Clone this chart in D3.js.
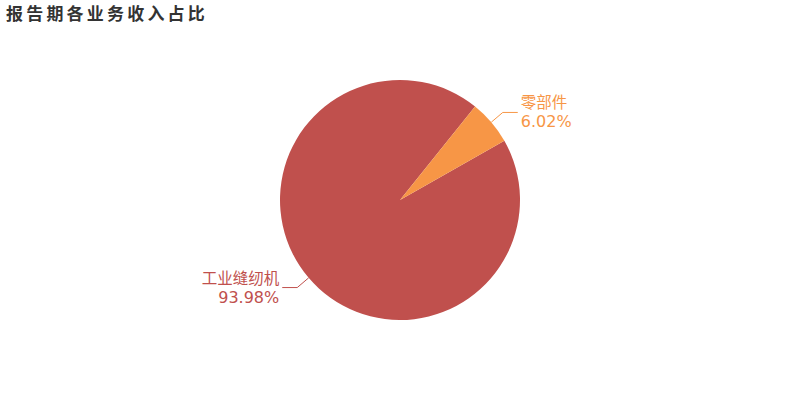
<!DOCTYPE html>
<html><head><meta charset="utf-8">
<script src="https://cdn.jsdelivr.net/npm/d3@7"></script>
<style>body{margin:0;background:#fff}svg{display:block}</style>
</head><body>
<svg id="c" width="800" height="400"></svg>
<script>
const title = "报告期各业务收入占比";
const categories = ["工业缝纫机", "零部件"];
const values = [93.98, 6.02];
const colors = ["#c0504d", "#f79646"];

const svg = d3.select("#c");
const cx = 400, cy = 200, R = 120;
const font = "'DejaVu Sans','Noto Sans CJK SC',sans-serif";

svg.append("text").attr("x", 6).attr("y", 20)
  .attr("font-family", font).attr("font-size", 17).attr("font-weight", "bold")
  .attr("letter-spacing", 3.2).attr("fill", "#333").text(title);

const data = categories.map((c, i) => ({name: c, value: values[i], color: colors[i]}));
const start = 60.4 * Math.PI / 180;
const pie = d3.pie().value(d => d.value).sort(null).startAngle(start).endAngle(start + 2 * Math.PI);
const arcs = pie(data);
const arc = d3.arc().innerRadius(0).outerRadius(R);
const g = svg.append("g").attr("transform", `translate(${cx},${cy})`);
g.selectAll("path").data(arcs).join("path").attr("d", arc).attr("fill", d => d.data.color);

arcs.forEach(a => {
  const m = (a.startAngle + a.endAngle) / 2;
  const sx = Math.sin(m), sy = -Math.cos(m);
  const p1 = [sx * R, sy * R], p2 = [sx * (R + 15), sy * (R + 15)];
  const dir = sx >= 0 ? 1 : -1;
  const p3 = [p2[0] + dir * 15, p2[1]];
  g.append("polyline").attr("points", [p1, p2, p3].map(p => p.join(",")).join(" "))
    .attr("fill", "none").attr("stroke", a.data.color).attr("stroke-width", 1);
  const tx = p3[0] + dir * 3;
  const anchor = dir > 0 ? "start" : "end";
  g.append("text").attr("x", tx).attr("y", p3[1] - 4).attr("text-anchor", anchor)
    .attr("font-family", font).attr("font-size", 15.5).attr("fill", a.data.color).text(a.data.name);
  g.append("text").attr("x", tx).attr("y", p3[1] + 15).attr("text-anchor", anchor)
    .attr("font-family", font).attr("font-size", 16).attr("fill", a.data.color)
    .text(a.data.value.toFixed(2) + "%");
});
</script>
</body></html>
